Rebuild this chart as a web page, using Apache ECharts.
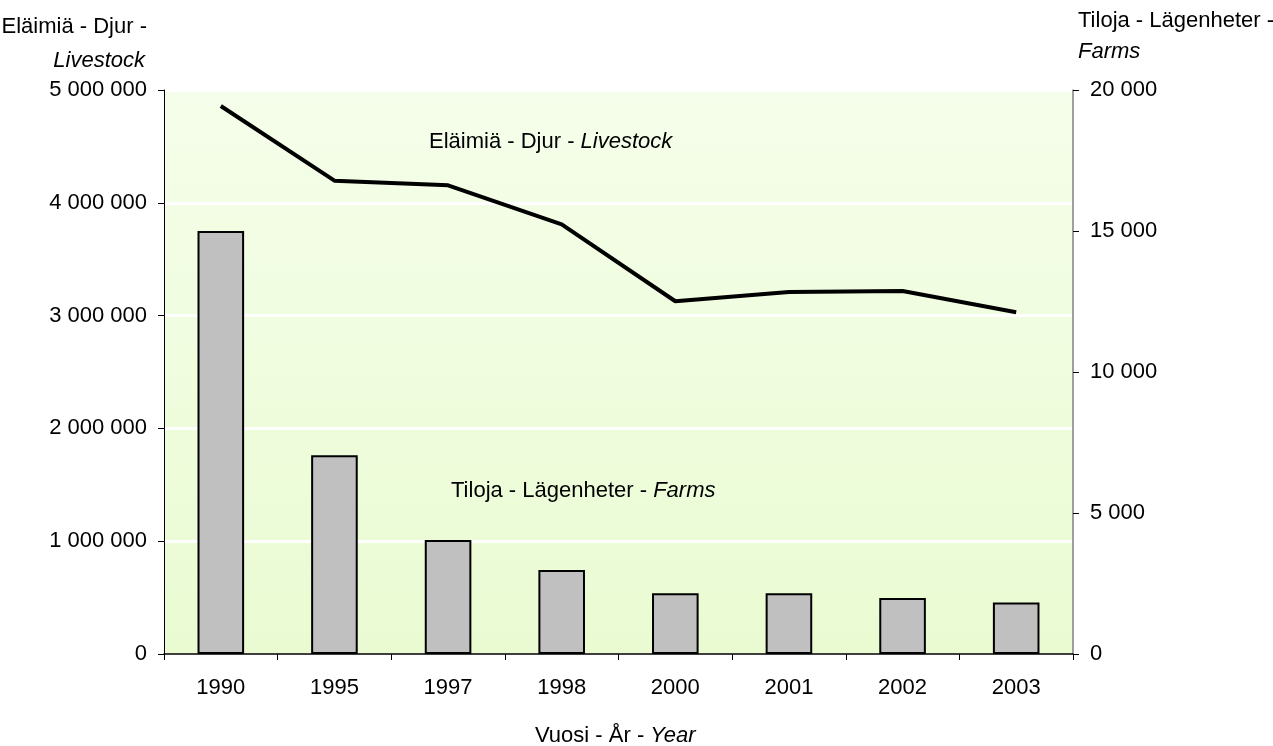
<!DOCTYPE html>
<html>
<head>
<meta charset="utf-8">
<script src="https://cdn.jsdelivr.net/npm/echarts@6/dist/echarts.min.js"></script>
<style>
  html, body { margin: 0; padding: 0; background: #fff; }
  #chart { width: 1273px; height: 746px; }
</style>
</head>
<body>
<div id="chart"></div>
<script>
// Years on the category axis
const years = ['1990', '1995', '1997', '1998', '2000', '2001', '2002', '2003'];
// Number of farms (right axis)
const farms = [15000, 7050, 4040, 2980, 2150, 2150, 1990, 1830];
// Number of animals (left axis)
const livestock = [4858000, 4196000, 4155000, 3809000, 3127000, 3209000, 3218000, 3029000];
// Axis tick settings
const leftMax = 5000000, leftStep = 1000000;
const rightMax = 20000, rightStep = 5000;

const FONT = '"Liberation Sans", Arial, sans-serif';
const FS = 22;
const fmt = v => String(v).replace(/\B(?=(\d{3})+(?!\d))/g, ' ');

const richText = (plain, italic) => ({
  text: '{n|' + plain + '}{i|' + italic + '}',
  rich: {
    n: { font: FS + 'px ' + FONT, fill: '#000' },
    i: { font: 'italic ' + FS + 'px ' + FONT, fill: '#000' }
  }
});

const chart = echarts.init(document.getElementById('chart'));
chart.setOption({
  animation: false,
  textStyle: { fontFamily: FONT, color: '#000' },
  grid: {
    left: 164, right: 200, top: 90, bottom: 92,
    show: true, borderWidth: 0,
    backgroundColor: {
      type: 'linear', x: 0, y: 0, x2: 0, y2: 1,
      colorStops: [
        { offset: 0, color: '#F5FEEA' },
        { offset: 1, color: '#EAFBD2' }
      ]
    }
  },
  xAxis: {
    type: 'category',
    data: years,
    boundaryGap: true,
    axisLine: { show: true, lineStyle: { color: '#000', width: 1.5 } },
    axisTick: { show: true, alignWithLabel: false, length: 6, lineStyle: { color: '#000' } },
    axisLabel: { fontSize: FS, color: '#000', margin: 23, fontFamily: FONT },
    splitLine: { show: false }
  },
  yAxis: [
    {
      type: 'value', min: 0, max: leftMax, interval: leftStep,
      axisLine: { show: true, lineStyle: { color: '#000', width: 1 } },
      axisTick: { show: true, length: 6, lineStyle: { color: '#000' } },
      axisLabel: { fontSize: FS, color: '#000', margin: 17, formatter: fmt, fontFamily: FONT },
      splitLine: { show: true, lineStyle: { color: '#FFFFFF', width: 3 } }
    },
    {
      type: 'value', min: 0, max: rightMax, interval: rightStep,
      position: 'right',
      axisLine: { show: true, lineStyle: { color: '#808080', width: 1.5 } },
      axisTick: { show: true, length: 6, lineStyle: { color: '#000' } },
      axisLabel: { fontSize: FS, color: '#000', margin: 17, formatter: fmt, fontFamily: FONT },
      splitLine: { show: false }
    }
  ],
  series: [
    {
      name: 'Farms',
      type: 'bar',
      yAxisIndex: 1,
      data: farms,
      barWidth: '41%',
      itemStyle: { color: '#C0C0C0', borderColor: '#000', borderWidth: 2 },
      z: 2
    },
    {
      name: 'Livestock',
      type: 'line',
      yAxisIndex: 0,
      data: livestock,
      showSymbol: false,
      symbol: 'none',
      lineStyle: { color: '#000', width: 4 },
      z: 3
    }
  ],
  graphic: [
    {
      type: 'text', right: 1273 - 147, top: 16,
      style: { text: 'Eläimiä - Djur -', font: FS + 'px ' + FONT, fill: '#000' }
    },
    {
      type: 'text', right: 1273 - 145, top: 50,
      style: { text: 'Livestock', font: 'italic ' + FS + 'px ' + FONT, fill: '#000' }
    },
    {
      type: 'text', left: 1078, top: 10,
      style: { text: 'Tiloja - Lägenheter -', font: FS + 'px ' + FONT, fill: '#000' }
    },
    {
      type: 'text', left: 1078, top: 41,
      style: { text: 'Farms', font: 'italic ' + FS + 'px ' + FONT, fill: '#000' }
    },
    { type: 'text', left: 429, top: 131, style: richText('Eläimiä - Djur - ', 'Livestock') },
    { type: 'text', left: 451, top: 480, style: richText('Tiloja - Lägenheter - ', 'Farms') },
    { type: 'text', left: 535, top: 725, style: richText('Vuosi - År - ', 'Year') }
  ]
});
</script>
</body>
</html>
